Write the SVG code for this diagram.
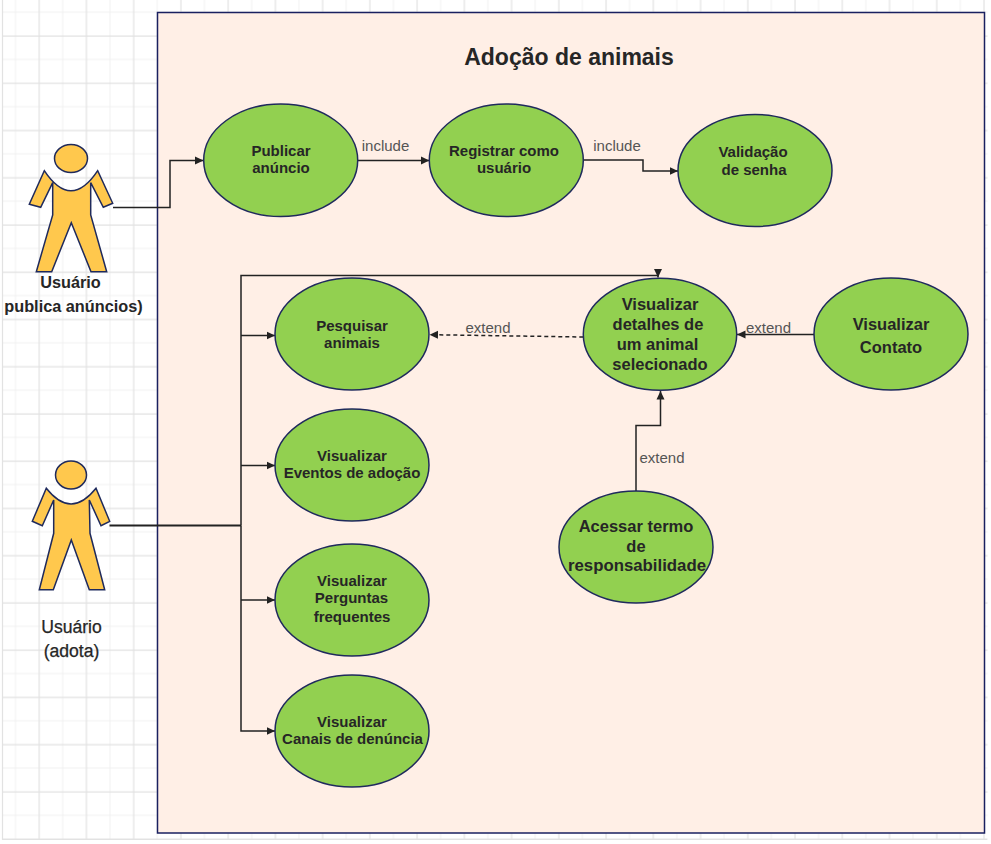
<svg xmlns="http://www.w3.org/2000/svg" width="991" height="844" viewBox="0 0 991 844">
  <defs>
    <pattern id="gridLight" x="14.5" y="11.2" width="47.24" height="47.24" patternUnits="userSpaceOnUse">
      <path d="M1 0V47.24M0 1H47.24" fill="none" stroke="#f1f1f1" stroke-width="1"/>
    </pattern>
    <pattern id="gridDark" x="38.2" y="35" width="47.24" height="47.24" patternUnits="userSpaceOnUse">
      <path d="M1 0V47.24M0 1H47.24" fill="none" stroke="#e2e2e2" stroke-width="1.2"/>
    </pattern>
    <marker id="arrow" markerUnits="userSpaceOnUse" markerWidth="10" markerHeight="10" refX="8.5" refY="4.5" orient="auto">
      <path d="M0 0.5L8.5 4.5L0 8.5Z" fill="#222"/>
    </marker>
  </defs>
  <style>
    text{font-family:"Liberation Sans",Arial,sans-serif;text-anchor:middle;fill:#262626}
    .uc{fill:#92d050;stroke:#1f2a5c;stroke-width:1.5}
    .uc-text{font-weight:700;font-size:15px}
    .uc-big{font-weight:700;font-size:16.5px}
    .actor{fill:#ffc84d;stroke:#1f2a5c;stroke-width:1.5;stroke-linejoin:miter}
    .actor-text{font-weight:700;font-size:16.3px}
    .actor-text2{font-weight:400;font-size:17.6px;stroke:#262626;stroke-width:.25}
    .edge{fill:none;stroke:#222;stroke-width:1.5}
    .edge-heavy{fill:none;stroke:#222;stroke-width:2}
    .edge-label{font-size:15px;fill:#555}
  </style>
  <rect width="991" height="844" fill="#fff"/>
  <rect x="2.5" y="0" width="985" height="840" fill="url(#gridLight)"/>
  <rect x="2.5" y="0" width="985" height="840" fill="url(#gridDark)"/>
  <path d="M2.5 0V840M2.5 839.5H987" fill="none" stroke="#e2e2e2" stroke-width="1.2"/>

  <g id="boundary">
    <rect x="157.5" y="12.5" width="827" height="820.5" fill="#ffefe6" stroke="#1a2060" stroke-width="1.5"/>
    <text x="569" y="65" font-size="23" font-weight="700">Adoção de animais</text>
  </g>

  <g id="connectors">
    <path class="edge" d="M113 207.5H170V160.5H203.5" marker-end="url(#arrow)"/>
    <path class="edge" d="M357.7 160.5H429.3" marker-end="url(#arrow)"/>
    <path class="edge" d="M583.3 160H643V171H678" marker-end="url(#arrow)"/>
    <path class="edge-heavy" d="M109.5 525.5H241"/>
    <path class="edge" d="M241 525.5V275.5H658V277.5" marker-end="url(#arrow)"/>
    <path class="edge" d="M241 335.5H275" marker-end="url(#arrow)"/>
    <path class="edge" d="M241 525.5V731H275" marker-end="url(#arrow)"/>
    <path class="edge" d="M241 465.5H275" marker-end="url(#arrow)"/>
    <path class="edge" d="M241 600H275" marker-end="url(#arrow)"/>
    <path class="edge" d="M583.3 337L429.5 334.7" stroke-dasharray="4 3" marker-end="url(#arrow)"/>
    <path class="edge" d="M814 334.5H737" marker-end="url(#arrow)"/>
    <path class="edge" d="M636 491V425.5H660.5V391" marker-end="url(#arrow)"/>
    <text class="edge-label" x="385.5" y="151">include</text>
    <text class="edge-label" x="617" y="151">include</text>
    <text class="edge-label" x="488" y="333">extend</text>
    <text class="edge-label" x="768.5" y="333">extend</text>
    <text class="edge-label" x="662" y="463">extend</text>
  </g>

  <g id="actor-publica">
    <ellipse class="actor" cx="71" cy="158.5" rx="16.5" ry="14"/>
    <path class="actor" d="M44.3 170.7Q71 211 97.7 170.7L112.7 203.3L103.3 207.3L90.7 182.7V215L106.7 271.7H91L71.3 222.7L51.7 271.7H36.3L52.7 215V182.7L40.7 207.3L29.3 204.3Z"/>
    <text class="actor-text" x="70.5" y="288">Usuário</text>
    <text class="actor-text" x="73.5" y="312">publica anúncios)</text>
  </g>
  <g id="actor-adota">
    <ellipse class="actor" cx="71" cy="475" rx="15.5" ry="14"/>
    <path class="actor" d="M46.3 488.3Q71 519.7 96 488.3L109.7 521.3L101 525.7L89.3 500L90 533.3L104.7 589.7H89.3L71.3 540L53.3 589.7H39.3L53.7 533.3V500L42.3 525.7L32.3 521.3Z"/>
    <text class="actor-text2" x="71.5" y="633">Usuário</text>
    <text class="actor-text2" x="71.5" y="657">(adota)</text>
  </g>

  <g id="uc-publicar">
    <ellipse class="uc" cx="280.7" cy="160.3" rx="77" ry="56.3"/>
    <text class="uc-text" x="281" y="156">Publicar</text>
    <text class="uc-text" x="281" y="173">anúncio</text>
  </g>
  <g id="uc-registrar">
    <ellipse class="uc" cx="506.3" cy="160.3" rx="77" ry="56.3"/>
    <text class="uc-text" x="504" y="156">Registrar como</text>
    <text class="uc-text" x="504" y="173">usuário</text>
  </g>
  <g id="uc-validacao">
    <ellipse class="uc" cx="755" cy="170.5" rx="77" ry="56"/>
    <text class="uc-text" x="753" y="157">Validação</text>
    <text class="uc-text" x="754" y="175">de senha</text>
  </g>
  <g id="uc-pesquisar">
    <ellipse class="uc" cx="352" cy="334" rx="77" ry="56"/>
    <text class="uc-text" x="352" y="331">Pesquisar</text>
    <text class="uc-text" x="352" y="348">animais</text>
  </g>
  <g id="uc-eventos">
    <ellipse class="uc" cx="352" cy="465" rx="77" ry="56"/>
    <text class="uc-text" x="352" y="461">Visualizar</text>
    <text class="uc-text" x="352" y="478">Eventos de adoção</text>
  </g>
  <g id="uc-perguntas">
    <ellipse class="uc" cx="352" cy="600" rx="77" ry="56"/>
    <text class="uc-text" x="352" y="586">Visualizar</text>
    <text class="uc-text" x="351.5" y="603">Perguntas</text>
    <text class="uc-text" x="352" y="622">frequentes</text>
  </g>
  <g id="uc-canais">
    <ellipse class="uc" cx="352" cy="731" rx="77" ry="56"/>
    <text class="uc-text" x="352" y="727">Visualizar</text>
    <text class="uc-text" x="352.5" y="744">Canais de denúncia</text>
  </g>
  <g id="uc-detalhes">
    <ellipse class="uc" cx="660" cy="334.3" rx="76.7" ry="56"/>
    <text class="uc-big" x="660" y="310">Visualizar</text>
    <text class="uc-big" x="658" y="330">detalhes de</text>
    <text class="uc-big" x="657.5" y="350">um animal</text>
    <text class="uc-big" x="660" y="370">selecionado</text>
  </g>
  <g id="uc-contato">
    <ellipse class="uc" cx="891" cy="334" rx="77" ry="56"/>
    <text class="uc-big" x="891" y="330">Visualizar</text>
    <text class="uc-big" x="891" y="353">Contato</text>
  </g>
  <g id="uc-acessar">
    <ellipse class="uc" cx="636" cy="547" rx="77" ry="56"/>
    <text class="uc-big" x="636" y="532">Acessar termo</text>
    <text class="uc-big" x="636" y="552">de</text>
    <text class="uc-big" x="637" y="571" style="font-size:16.8px">responsabilidade</text>
  </g>
</svg>
